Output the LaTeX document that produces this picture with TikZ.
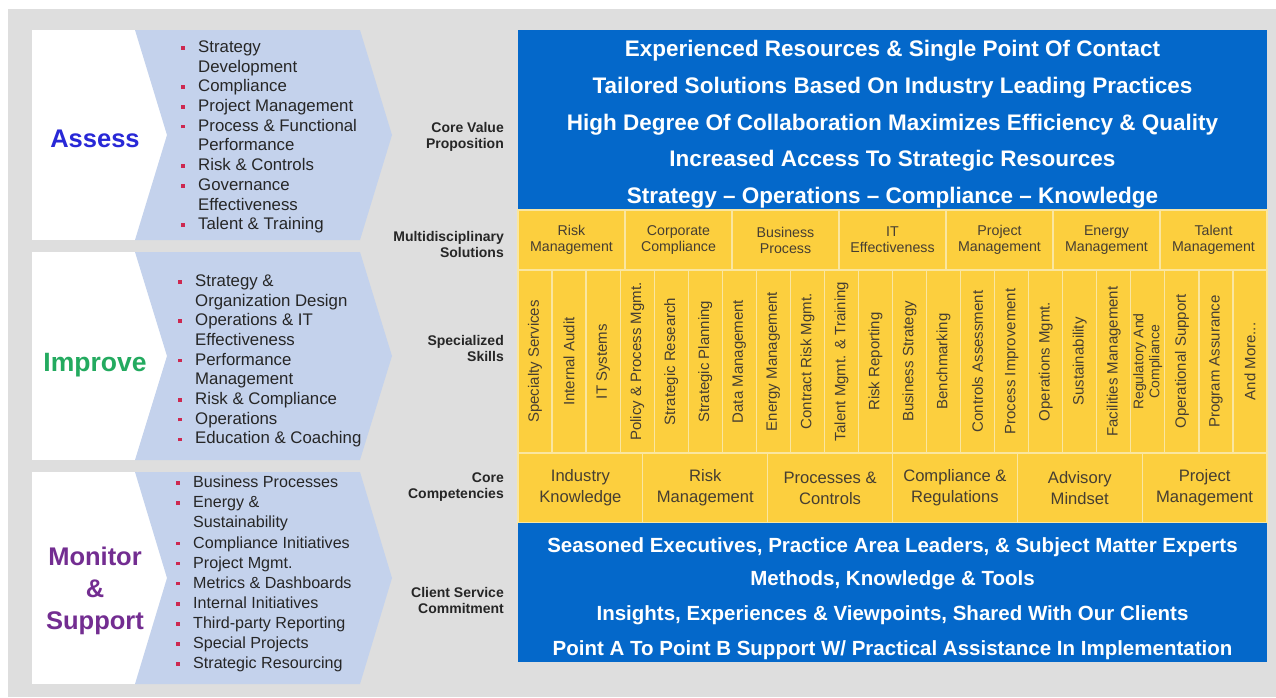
\documentclass[tikz,border=0pt]{standalone}
\usepackage{fontspec}
\setmainfont{Liberation Sans}
\definecolor{bggray}{RGB}{222,222,222}
\definecolor{chevblue}{RGB}{196,210,236}
\definecolor{boxblue}{RGB}{4,104,202}
\definecolor{cellyellow}{RGB}{252,207,62}
\definecolor{cellline}{RGB}{250,230,160}
\definecolor{bulletred}{RGB}{205,40,80}
\definecolor{assessblue}{RGB}{40,40,215}
\definecolor{improvegreen}{RGB}{35,170,95}
\definecolor{monitorpurple}{RGB}{115,45,145}
\definecolor{labelgray}{RGB}{38,38,38}
\definecolor{celltext}{RGB}{70,62,50}
\newcommand{\bitem}[1]{\makebox[17pt][l]{\textcolor{bulletred}{\rule[2.8pt]{3.6pt}{3.6pt}}}#1}
\newcommand{\bcont}[1]{\hspace*{17pt}#1}

\begin{document}
\begin{tikzpicture}[x=1pt,y=-1pt]
\tikzset{phase/.style = {font=\fontsize{25.5}{32}\selectfont\bfseries, align=center, inner sep=0pt}}
\tikzset{blist/.style = {font=\fontsize{16.8}{19.7}\selectfont, align=left, inner sep=0pt, anchor=west, text=black!85}}
\tikzset{rowlabel/.style = {font=\fontsize{14}{16}\selectfont\bfseries, align=right, inner sep=0pt, anchor=east, text=labelgray}}
\tikzset{bluetext/.style = {font=\fontsize{22.5}{27}\selectfont\bfseries, text=white, inner sep=0pt, anchor=base}}
\tikzset{cell/.style = {draw=cellline, line width=1.2pt, fill=cellyellow, inner sep=0pt, align=center, text=celltext}}
\tikzset{solution/.style = {cell, minimum width=107pt, minimum height=60pt, font=\fontsize{14.2}{16}\selectfont}}
\tikzset{skill/.style = {cell, rotate=90, minimum width=183pt, minimum height=34.045pt, font=\fontsize{15}{17}\selectfont}}
\tikzset{competency/.style = {cell, minimum width=124.83pt, minimum height=70pt, font=\fontsize{16.6}{21}\selectfont}}
\def \bx {892.5}
\useasboundingbox (0,0) rectangle (1276,697);
\fill[white] (0,0) rectangle (1276,697);
\fill[bggray] (8,9) rectangle (1276,697);

% left column: three phases
\fill[white] (32,30) rectangle (250,240);
\fill[white] (32,252) rectangle (250,460);
\fill[white] (32,472) rectangle (250,684);
\fill[chevblue] (135,30) -- (360,30) -- (392,135) -- (360,240) -- (135,240) -- (167,135) -- cycle;
\fill[chevblue] (135,252) -- (360,252) -- (392,356) -- (360,460) -- (135,460) -- (167,356) -- cycle;
\fill[chevblue] (135,472) -- (360,472) -- (392,578) -- (360,684) -- (135,684) -- (167,578) -- cycle;

\node[phase, text=assessblue, anchor=base] (assess) at (95,147) {Assess};
\node[phase, text=improvegreen, anchor=base, font=\fontsize{26.5}{32}\selectfont\bfseries] (improve) at (95,371) {Improve};
\node[phase, text=monitorpurple] (monitor) at (95,591) {Monitor\\\&\\Support};

\node[blist] (assesslist) at (181,137) {\bitem{Strategy}\\\bcont{Development}\\\bitem{Compliance}\\\bitem{Project Management}\\\bitem{Process \& Functional}\\\bcont{Performance}\\\bitem{Risk \& Controls}\\\bitem{Governance}\\\bcont{Effectiveness}\\\bitem{Talent \& Training}};
\node[blist] (improvelist) at (178,361) {\bitem{Strategy \&}\\\bcont{Organization Design}\\\bitem{Operations \& IT}\\\bcont{Effectiveness}\\\bitem{Performance}\\\bcont{Management}\\\bitem{Risk \& Compliance}\\\bitem{Operations}\\\bitem{Education \& Coaching}};
\node[blist, font=\fontsize{16.1}{20.1}\selectfont] (monitorlist) at (176,574) {\bitem{Business Processes}\\\bitem{Energy \&}\\\bcont{Sustainability}\\\bitem{Compliance Initiatives}\\\bitem{Project Mgmt.}\\\bitem{Metrics \& Dashboards}\\\bitem{Internal  Initiatives}\\\bitem{Third-party Reporting}\\\bitem{Special Projects}\\\bitem{Strategic Resourcing}};

% row labels
\node[rowlabel] (cvplabel) at (504,137) {Core Value\\Proposition};
\node[rowlabel] (mdslabel) at (504,244) {Multidisciplinary\\Solutions};
\node[rowlabel] (skilllabel) at (504,348) {Specialized\\Skills};
\node[rowlabel] (corelabel) at (504,487) {Core\\Competencies};
\node[rowlabel] (csclabel) at (504,600) {Client Service\\Commitment};

% core value proposition
\fill[boxblue] (518,30) rectangle (1267,210);
\node[bluetext] (cv1) at (\bx,56) {Experienced Resources \& Single Point Of Contact};
\node[bluetext] (cv2) at (\bx,93) {Tailored Solutions Based On Industry Leading Practices};
\node[bluetext] (cv3) at (\bx,130) {High Degree Of Collaboration Maximizes Efficiency \& Quality};
\node[bluetext] (cv4) at (\bx,166) {Increased Access To Strategic Resources};
\node[bluetext] (cv5) at (\bx,203) {Strategy -- Operations -- Compliance -- Knowledge};

% multidisciplinary solutions
\node[solution] (sol1) at (571.5,240) {Risk\\Management};
\node[solution] (sol2) at (678.5,240) {Corporate\\Compliance};
\node[solution] (sol3) at (785.5,240) {Business\\Process};
\node[solution] (sol4) at (892.5,240) {IT\\Effectiveness};
\node[solution] (sol5) at (999.5,240) {Project\\Management};
\node[solution] (sol6) at (1106.5,240) {Energy\\Management};
\node[solution] (sol7) at (1213.5,240) {Talent\\Management};

% specialized skills
\node[skill] (sk1) at (535.02,361.5) {Specialty Services};
\node[skill] (sk2) at (569.07,361.5) {Internal Audit};
\node[skill] (sk3) at (603.11,361.5) {IT Systems};
\node[skill] (sk4) at (637.16,361.5) {Policy \& Process Mgmt.};
\node[skill] (sk5) at (671.20,361.5) {Strategic Research};
\node[skill] (sk6) at (705.25,361.5) {Strategic Planning};
\node[skill] (sk7) at (739.30,361.5) {Data Management};
\node[skill] (sk8) at (773.34,361.5) {Energy Management};
\node[skill] (sk9) at (807.39,361.5) {Contract Risk Mgmt.};
\node[skill] (sk10) at (841.43,361.5) {Talent Mgmt. \& Training};
\node[skill] (sk11) at (875.48,361.5) {Risk Reporting};
\node[skill] (sk12) at (909.52,361.5) {Business Strategy};
\node[skill] (sk13) at (943.57,361.5) {Benchmarking};
\node[skill] (sk14) at (977.61,361.5) {Controls Assessment};
\node[skill] (sk15) at (1011.66,361.5) {Process Improvement};
\node[skill] (sk16) at (1045.70,361.5) {Operations Mgmt.};
\node[skill] (sk17) at (1079.75,361.5) {Sustainability};
\node[skill] (sk18) at (1113.80,361.5) {Facilities Management};
\node[skill, font=\fontsize{14}{16}\selectfont] (sk19) at (1147.84,361.5) {Regulatory And\\Compliance};
\node[skill] (sk20) at (1181.89,361.5) {Operational Support};
\node[skill] (sk21) at (1215.93,361.5) {Program Assurance};
\node[skill] (sk22) at (1249.98,361.5) {And More...};

% core competencies
\node[competency] (cc1) at (580.42,488) {Industry\\Knowledge};
\node[competency] (cc2) at (705.25,488) {Risk\\Management};
\node[competency] (cc3) at (830.08,488) {Processes \&\\Controls};
\node[competency] (cc4) at (954.92,488) {Compliance \&\\Regulations};
\node[competency] (cc5) at (1079.75,488) {Advisory\\Mindset};
\node[competency] (cc6) at (1204.58,488) {Project\\Management};

% client service commitment
\fill[boxblue] (518,523) rectangle (1267,662);
\node[bluetext, font=\fontsize{20.5}{25}\selectfont\bfseries] (cs1) at (\bx,552) {Seasoned Executives, Practice Area Leaders, \& Subject Matter Experts};
\node[bluetext, font=\fontsize{20.5}{25}\selectfont\bfseries] (cs2) at (\bx,585) {Methods, Knowledge \& Tools};
\node[bluetext, font=\fontsize{20.5}{25}\selectfont\bfseries] (cs3) at (\bx,620) {Insights, Experiences \& Viewpoints, Shared With Our Clients};
\node[bluetext, font=\fontsize{20.5}{25}\selectfont\bfseries] (cs4) at (\bx,655) {Point A To Point B Support W/ Practical Assistance In Implementation};
\end{tikzpicture}
\end{document}
